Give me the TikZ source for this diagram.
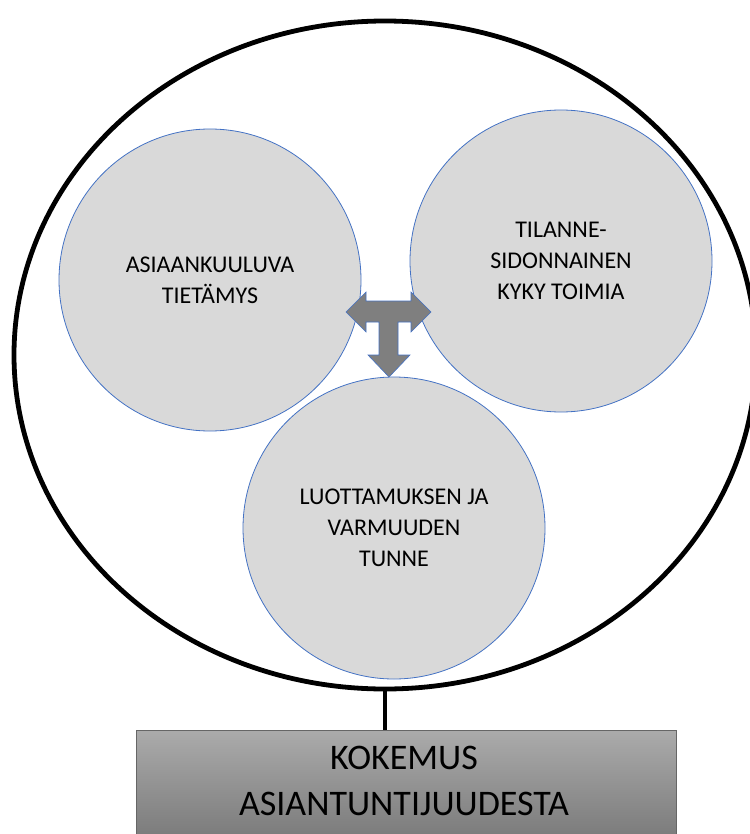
\documentclass[tikz,border=0pt]{standalone}
\usepackage{fontspec}
\setmainfont{Carlito}
\usepackage{tikz}
\usetikzlibrary{shapes.geometric}

\definecolor{discfill}{HTML}{D9D9D9}
\definecolor{discline}{HTML}{4472C4}
\definecolor{arrowfill}{HTML}{7F7F7F}

\begin{document}
\begin{tikzpicture}[
		x=1pt, y=-1pt,
		disc/.style={circle, draw=discline, line width=0.8pt, fill=discfill, minimum size=302pt, inner sep=0pt, align=center, font=\fontsize{24}{31}\selectfont},
		outerring/.style={ellipse, draw, line width=4.8pt, minimum width=742pt, minimum height=668pt, inner sep=0pt},
		basebox/.style={rectangle, draw=black!60, line width=1pt, top color=black!33, bottom color=black!53, minimum width=540pt, minimum height=115pt},
		basetext/.style={align=center, font=\fontsize{36}{46}\selectfont, inner sep=0pt}
	]
  \useasboundingbox (0,0) rectangle (749,834);
  \node (outer) [outerring] at (385,355) {};
  \node (tieto) [disc] at (210,280) {ASIAANKUULUVA\\TIETÄMYS};
  \node (kyky) [disc] at (561,261) {TILANNE-\\SIDONNAINEN\\KYKY TOIMIA};
  \node (tunne) [disc] at (394,528) {LUOTTAMUKSEN JA\\VARMUUDEN\\TUNNE};
  \node (kokemus) [basebox] at (406,787.5) {};
  \node (kokemus_label) [basetext] at (404,781) {KOKEMUS\\ASIANTUNTIJUUDESTA};
  \draw [line width=4pt] (outer.south) -- (kokemus.north -| outer.south);
  % T-shaped arrow between the discs
  \draw [draw=discline, line width=0.6pt, fill=arrowfill, line join=miter]
    (346,312) -- (366,292) -- (366,301) -- (411,301) -- (411,292) -- (431,312)
    -- (411,332) -- (411,322) -- (398,322) -- (398,355) -- (410,355) -- (389,377)
    -- (368,355) -- (379,355) -- (379,322) -- (366,322) -- (366,332) -- cycle;
\end{tikzpicture}
\end{document}
